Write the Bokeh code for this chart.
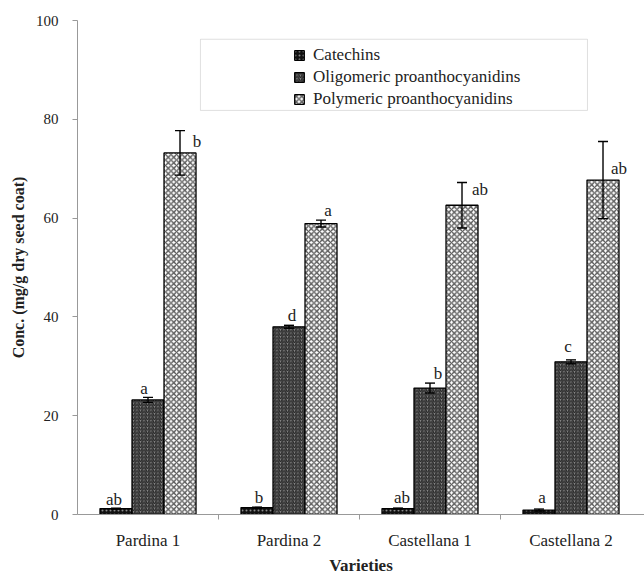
import numpy as np
from bokeh.plotting import figure
from bokeh.models import (ColumnDataSource, Range1d, FixedTicker, Whisker, TeeHead,
                          Legend, LegendItem, BoxAnnotation)
from bokeh.core.properties import value
from bokeh.embed import file_html
from bokeh.resources import INLINE

# ---- data ----
varieties = ["Pardina 1", "Pardina 2", "Castellana 1", "Castellana 2"]
series = ["Catechins", "Oligomeric proanthocyanidins", "Polymeric proanthocyanidins"]
catechins = [1.2, 1.4, 1.2, 0.9]
catechins_err = [0.1, 0.1, 0.1, 0.2]
oligomeric = [23.2, 38.0, 25.6, 30.9]
oligomeric_err = [0.5, 0.3, 1.0, 0.4]
polymeric = [73.2, 58.9, 62.6, 67.7]
polymeric_err = [4.5, 0.7, 4.6, 7.8]
cat_letters = ["ab", "b", "ab", "a"]
olig_letters = ["a", "d", "b", "c"]
poly_letters = ["b", "a", "ab", "ab"]
y_ticks = [0, 20, 40, 60, 80, 100]

FONT = "Liberation Serif"
BW = 0.227

p = figure(width=644, height=577, output_backend="svg", toolbar_location=None,
           x_range=Range1d(0, 567 / 141), y_range=Range1d(0, 100),
           min_border_left=77, min_border_right=0, min_border_top=20, min_border_bottom=63)
p.outline_line_color = None
p.xgrid.visible = False
p.ygrid.visible = False
p.background_fill_color = "white"

centers = np.arange(len(varieties)) + 0.5
styles = [
    dict(fill_color="#111111", hatch_pattern="dot", hatch_color="#8a8a8a", hatch_scale=4, hatch_weight=1),
    dict(fill_color="#8a8a8a", hatch_pattern="right_diagonal_line", hatch_color="#262626", hatch_scale=3.5, hatch_weight=1.2),
    dict(fill_color="#ffffff", hatch_pattern="diagonal_cross", hatch_color="#5a5a5a", hatch_scale=5.5, hatch_weight=1.4),
]
vals = [catechins, oligomeric, polymeric]
errs = [catechins_err, oligomeric_err, polymeric_err]
letters = [cat_letters, olig_letters, poly_letters]
offs = [-BW, 0.0, BW]
# label screen offsets (dx, dy) per series per variety
label_dx = [[-2, 2, 4, 3], [-4, 3, 8, -3], [17, 7, 18, 16]]
label_dy = [[-9, -10, -11, -12], [-9, -10, -10, -13], [11, -10, 7, 27]]

items = []
for k in range(3):
    src = ColumnDataSource(dict(
        x=centers + offs[k], top=vals[k],
        upper=np.array(vals[k]) + np.array(errs[k]),
        lower=np.array(vals[k]) - np.array(errs[k]),
        lab=letters[k], dx=label_dx[k], dy=label_dy[k]))
    r = p.vbar(x="x", top="top", width=BW, bottom=0, source=src,
               line_color="black", line_width=1.3, **styles[k])
    items.append(LegendItem(label=series[k], renderers=[r]))
    p.add_layout(Whisker(source=src, base="x", upper="upper", lower="lower", level="overlay",
                         line_color="black", line_width=1.4,
                         upper_head=TeeHead(size=10, line_width=1.4, line_color="black"),
                         lower_head=TeeHead(size=10, line_width=1.4, line_color="black")))
    p.text(x="x", y="upper", text="lab", source=src, x_offset="dx", y_offset="dy",
           text_align="center", text_baseline="middle",
           text_font=value(FONT), text_font_size="17px", text_color="#222222")

# legend frame
p.add_layout(BoxAnnotation(left=0.872, right=3.617, top=96.2, bottom=81.8,
                           fill_alpha=0, line_color="#999999", line_width=1))
legend = Legend(items=items, location=(216, 404), orientation="vertical",
                padding=0, margin=0, spacing=0, label_height=22,
                glyph_width=12, glyph_height=12, label_standoff=8,
                label_text_font=FONT, label_text_font_size="17px", label_text_color="#222222",
                background_fill_alpha=0, border_line_alpha=0)
p.add_layout(legend, "center")

# axes
ya = p.yaxis[0]
ya.ticker = FixedTicker(ticks=y_ticks)
ya.axis_line_color = "#999999"
ya.major_tick_line_color = "#999999"
ya.major_tick_out = 5
ya.major_tick_in = 0
ya.minor_tick_line_color = None
ya.major_label_standoff = 14
ya.major_label_text_font = FONT
ya.major_label_text_font_size = "15px"
ya.major_label_text_color = "#222222"
ya.axis_label = "Conc. (mg/g dry seed coat)"
ya.axis_label_text_font = FONT
ya.axis_label_text_font_style = "bold"
ya.axis_label_text_font_size = "16px"
ya.axis_label_text_color = "#222222"
ya.axis_label_standoff = 6

xa = p.xaxis[0]
xa.ticker = FixedTicker(ticks=list(centers), minor_ticks=[1, 2, 3])
xa.major_label_overrides = {float(c): v for c, v in zip(centers, varieties)}
xa.axis_line_color = "#999999"
xa.major_tick_line_color = None
xa.major_tick_out = 5
xa.major_tick_in = 0
xa.minor_tick_line_color = "#999999"
xa.minor_tick_out = 5
xa.minor_tick_in = 0
xa.major_label_standoff = 11
xa.major_label_text_font = FONT
xa.major_label_text_font_size = "17px"
xa.major_label_text_color = "#222222"
xa.axis_label = "Varieties"
xa.axis_label_text_font = FONT
xa.axis_label_text_font_style = "bold"
xa.axis_label_text_font_size = "17px"
xa.axis_label_text_color = "#222222"
xa.axis_label_standoff = 3

open("out.html", "w").write(file_html(p, INLINE))
